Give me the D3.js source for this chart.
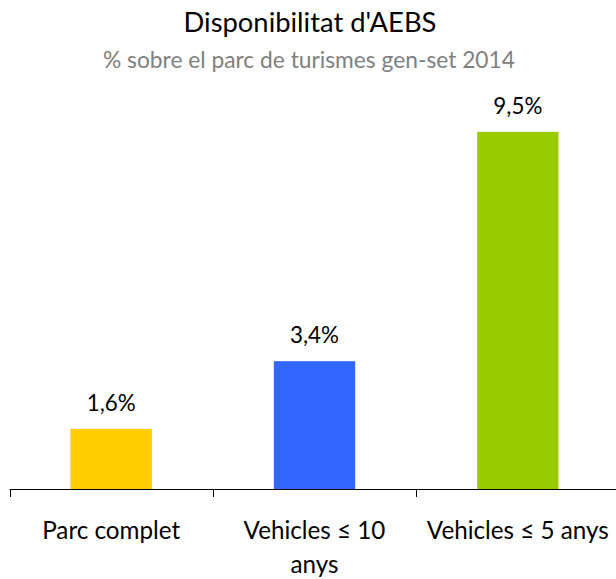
<!DOCTYPE html>
<html>
<head>
<meta charset="utf-8">
<script src="https://cdn.jsdelivr.net/npm/d3@7"></script>
<style>
  html, body { margin: 0; padding: 0; background: #fff; }
  svg { display: block; font-family: Lato, "Open Sans", sans-serif; }
</style>
</head>
<body>
<svg id="chart" width="616" height="579"></svg>
<script>
const categories = ["Parc complet", "Vehicles ≤ 10\nanys", "Vehicles ≤ 5 anys"];
const values = [1.6, 3.4, 9.5];
const valueLabels = ["1,6%", "3,4%", "9,5%"];
const colors = ["#FFCC00", "#3366FF", "#99CC00"];
const title = "Disponibilitat d'AEBS";
const subtitle = "% sobre el parc de turismes gen-set 2014";

const svg = d3.select("#chart");

const x = d3.scaleBand()
  .domain(categories)
  .range([9.5, 619.5])
  .paddingInner(0.6)
  .paddingOuter(0.3);

const y = d3.scaleLinear().domain([0, 10]).range([489, 113]);

function fit(sel, target) {
  const w = sel.node().getComputedTextLength();
  const fs = parseFloat(sel.attr("font-size"));
  sel.attr("font-size", (fs * target / w).toFixed(2));
}

// Title
const t = svg.append("text")
  .attr("x", 310).attr("y", 32)
  .attr("text-anchor", "middle")
  .attr("font-size", 24)
  .attr("fill", "#000")
  .text(title);
fit(t, 253);

const st = svg.append("text")
  .attr("x", 309).attr("y", 68)
  .attr("text-anchor", "middle")
  .attr("font-size", 19)
  .attr("fill", "#808080")
  .text(subtitle);
fit(st, 412);

// Bars
svg.append("g").selectAll("rect")
  .data(values)
  .join("rect")
  .attr("x", (d, i) => x(categories[i]))
  .attr("width", x.bandwidth())
  .attr("y", d => y(d))
  .attr("height", d => y(0) - y(d))
  .attr("fill", (d, i) => colors[i]);

// Value labels
const vl = svg.append("g").selectAll("text")
  .data(values)
  .join("text")
  .attr("x", (d, i) => x(categories[i]) + x.bandwidth() / 2)
  .attr("y", d => y(d) - 18)
  .attr("text-anchor", "middle")
  .attr("font-size", 22)
  .attr("fill", "#000")
  .text((d, i) => valueLabels[i]);
{
  const first = d3.select(vl.nodes()[1]);
  const w = first.node().getComputedTextLength();
  const fs = 22 * 49 / w;
  vl.attr("font-size", fs.toFixed(2));
}

// Axis line and ticks
const step = x.step();
const gap = (step - x.bandwidth()) / 2;
const tickXs = categories.map(c => x(c) - gap).concat([x(categories[categories.length - 1]) + x.bandwidth() + gap]);
const axis = svg.append("g");
axis.append("line")
  .attr("x1", tickXs[0]).attr("x2", 616)
  .attr("y1", y(0) + 0.5).attr("y2", y(0) + 0.5)
  .attr("stroke", "#000").attr("stroke-width", 1);
axis.selectAll("line.tick")
  .data(tickXs)
  .join("line")
  .attr("class", "tick")
  .attr("x1", d => Math.round(d) + 0.5).attr("x2", d => Math.round(d) + 0.5)
  .attr("y1", y(0)).attr("y2", y(0) + 8)
  .attr("stroke", "#000").attr("stroke-width", 1);

// Category labels
const cl = svg.append("g").selectAll("text")
  .data(categories)
  .join("text")
  .attr("x", d => x(d) + x.bandwidth() / 2)
  .attr("y", 539)
  .attr("text-anchor", "middle")
  .attr("font-size", 21)
  .attr("fill", "#000");
cl.selectAll("tspan")
  .data(d => d.split("\n"))
  .join("tspan")
  .attr("x", function () { return d3.select(this.parentNode).attr("x"); })
  .attr("dy", (d, i) => i === 0 ? 0 : 34)
  .text(d => d);
{
  const n = cl.nodes()[0];
  const w = n.getComputedTextLength();
  cl.attr("font-size", (21 * 138 / w).toFixed(2));
}
</script>
</body>
</html>
